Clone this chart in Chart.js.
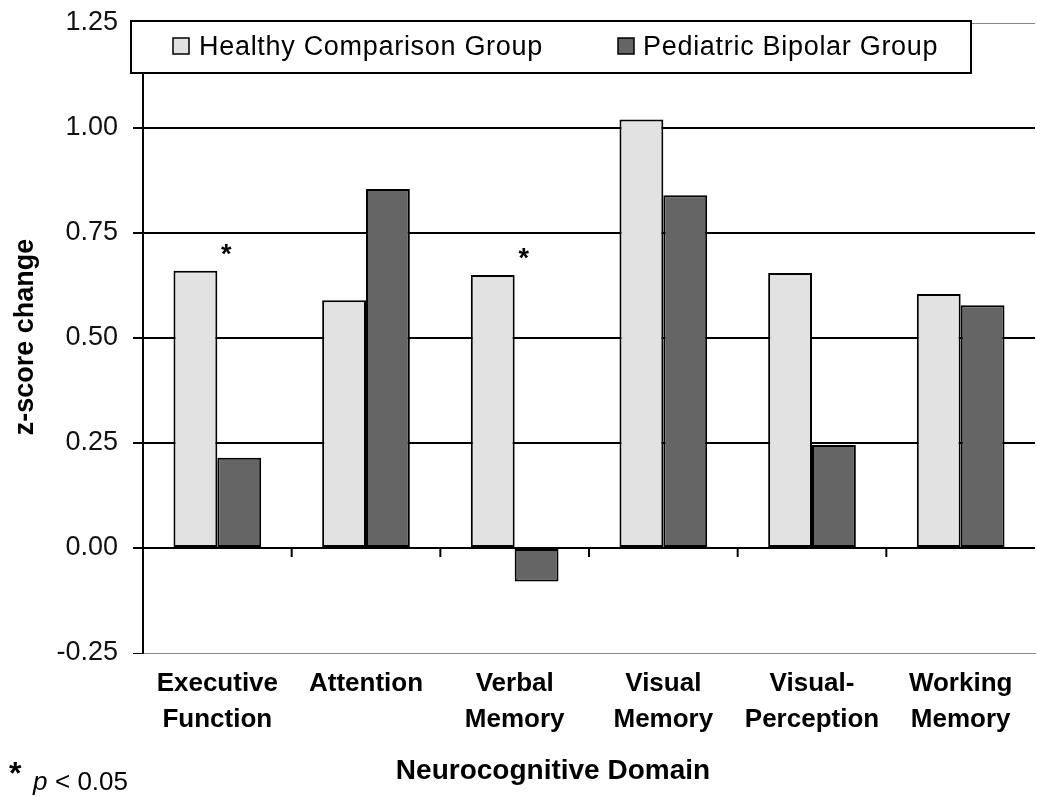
<!DOCTYPE html>
<html>
<head>
<meta charset="utf-8">
<script src="https://cdn.jsdelivr.net/npm/chart.js@4"></script>
<style>
  body { margin: 0; background: #fff; }
  #wrap { width: 1037px; height: 797px; }
</style>
</head>
<body>
<div id="wrap"><canvas id="zChart"></canvas></div>
<script>
const domains = [['Executive', 'Function'], 'Attention', ['Verbal', 'Memory'], ['Visual', 'Memory'], ['Visual-', 'Perception'], ['Working', 'Memory']];
const seriesNames = ['Healthy Comparison Group', 'Pediatric Bipolar Group'];
const healthy = [0.66, 0.59, 0.65, 1.02, 0.655, 0.605];
const pediatric = [0.215, 0.855, -0.08, 0.84, 0.245, 0.578];
const significant = [true, false, true, false, false, false];
const yTicks = [-0.25, 0, 0.25, 0.5, 0.75, 1, 1.25];

const FONT = '"Liberation Sans", Arial, sans-serif';
const colors = ['#e2e2e2', '#656565'];

// legend box, asterisks, footnote, axis titles
const extras = {
    id: 'extras',
    afterDraw(chart) {
        const ctx = chart.ctx;
        const x = chart.scales.x;
        const y = chart.scales.y;
        ctx.save();

        // small tick marks below the zero line between categories
        ctx.strokeStyle = '#000';
        ctx.lineWidth = 2;
        const y0 = y.getPixelForValue(0);
        for (let i = 1; i < domains.length; i++) {
            const xb = (x.getPixelForValue(i - 1) + x.getPixelForValue(i)) / 2;
            ctx.beginPath();
            ctx.moveTo(xb, y0);
            ctx.lineTo(xb, y0 + 9);
            ctx.stroke();
        }

        // significance stars
        ctx.fillStyle = '#000';
        ctx.font = 'bold 27px ' + FONT;
        ctx.textAlign = 'center';
        ctx.textBaseline = 'middle';
        significant.forEach((s, i) => {
            if (!s) return;
            ctx.fillText('*', x.getPixelForValue(i) + 9, y.getPixelForValue(healthy[i]) - 15);
        });

        // legend
        ctx.fillStyle = '#fff';
        ctx.fillRect(131, 21, 840, 52);
        ctx.strokeStyle = '#000';
        ctx.lineWidth = 2;
        ctx.strokeRect(131, 21, 840, 52);
        const items = [[173, 199], [618, 643]];
        ctx.font = '27px ' + FONT;
        ctx.textAlign = 'left';
        ctx.textBaseline = 'alphabetic';
        ctx.letterSpacing = '0.7px';
        seriesNames.forEach((name, i) => {
            ctx.fillStyle = colors[i];
            ctx.fillRect(items[i][0], 38, 16, 16);
            ctx.lineWidth = 1.5;
            ctx.strokeRect(items[i][0], 38, 16, 16);
            ctx.fillStyle = '#000';
            ctx.fillText(name, items[i][1], 55);
        });
        ctx.letterSpacing = '0px';

        // x title
        ctx.font = 'bold 28px ' + FONT;
        ctx.textAlign = 'center';
        ctx.fillText('Neurocognitive Domain', 553, 779);

        // y title
        ctx.save();
        ctx.translate(33, 337);
        ctx.rotate(-Math.PI / 2);
        ctx.font = 'bold 27px ' + FONT;
        ctx.textAlign = 'center';
        ctx.fillText('z-score change', 0, 0);
        ctx.restore();

        // footnote
        ctx.textAlign = 'left';
        ctx.font = 'bold 32px ' + FONT;
        ctx.fillText('*', 9, 784);
        ctx.font = 'italic 26px ' + FONT;
        ctx.fillText('p', 33, 790);
        ctx.font = '26px ' + FONT;
        ctx.fillText('< 0.05', 55, 790);

        ctx.restore();
    }
};

const ctx = document.getElementById('zChart').getContext('2d');
new Chart(ctx, {
    type: 'bar',
    data: {
        labels: domains,
        datasets: [{
            label: seriesNames[0],
            data: healthy,
            backgroundColor: colors[0],
            borderColor: '#000',
            borderWidth: 2,
            borderSkipped: false
        }, {
            label: seriesNames[1],
            data: pediatric,
            backgroundColor: colors[1],
            borderColor: '#000',
            borderWidth: 2,
            borderSkipped: false
        }]
    },
    options: {
        responsive: true,
        maintainAspectRatio: false,
        animation: false,
        datasets: {
            bar: { categoryPercentage: 0.59, barPercentage: 1 }
        },
        layout: { padding: { top: 23, right: 2, left: 0, bottom: 0 } },
        scales: {
            x: {
                grid: { display: false, drawTicks: false },
                border: { display: true, color: '#888', width: 1 },
                ticks: {
                    color: '#000',
                    padding: 13,
                    maxRotation: 0,
                    autoSkip: false,
                    font: { family: FONT, size: 26, weight: 'bold', lineHeight: 1.38 }
                },
                afterFit(scale) { scale.height = 144; }
            },
            y: {
                min: -0.25,
                max: 1.25,
                afterBuildTicks(scale) { scale.ticks = yTicks.map(v => ({ value: v })); },
                grid: {
                    color: c => (c.tick && (c.tick.value === 1.25 || c.tick.value === -0.25)) ? '#888' : '#000',
                    lineWidth: c => (c.tick && (c.tick.value === 1.25 || c.tick.value === -0.25)) ? 1 : 2,
                    tickColor: '#000',
                    tickLength: 10
                },
                border: { color: '#000', width: 2 },
                ticks: {
                    color: '#111',
                    padding: 15,
                    font: { family: FONT, size: 27 },
                    callback: v => v.toFixed(2)
                },
                afterFit(scale) {
                    scale.width = 143;
                    scale.paddingTop = 0;
                    scale.paddingBottom = 0;
                }
            }
        },
        plugins: {
            legend: { display: false },
            tooltip: { enabled: false }
        }
    },
    plugins: [extras]
});
</script>
</body>
</html>
